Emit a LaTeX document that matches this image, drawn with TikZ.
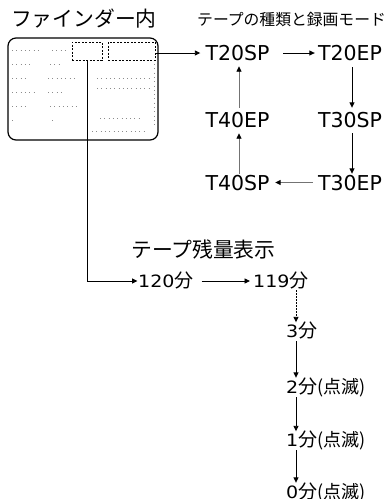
\documentclass[tikz,border=0pt]{standalone}
\usepackage{fontspec}
\usetikzlibrary{arrows.meta}
\newfontfamily\jpf{Noto Sans CJK JP}
\newfontfamily\ltf{DejaVu Sans}
\newfontfamily\mnf[FakeStretch=1.12]{DejaVu Sans}
\newcommand{\fen}{{\jpf\fontsize{19}{21}\selectfont 分}}
\newcommand{\tenmetsu}{{\jpf\fontsize{18}{21}\selectfont (点滅)}}
\begin{document}
\begin{tikzpicture}[x=1pt,y=-1pt,
  titlebig/.style={inner sep=0pt, anchor=west, font=\jpf\fontsize{20.8}{22}\selectfont},
  titlesmall/.style={inner sep=0pt, anchor=west, font=\jpf\fontsize{15.8}{18}\selectfont},
  mode/.style={inner sep=0pt, text height=15pt, text depth=0pt, font=\ltf\fontsize{20.5}{22}\selectfont},
  minute/.style={inner sep=0pt, anchor=west, text height=13pt, text depth=0pt, font=\mnf\fontsize{17}{20}\selectfont},
  arr/.style={line width=0.9pt, -{Triangle[length=5.5pt,width=5pt]}},
  grayarr/.style={arr, draw=black!55, -{Triangle[length=5.5pt,width=5pt,fill=black,color=black]}},
  dashbox/.style={draw, inner sep=0pt, line width=0.9pt, dash pattern=on 2pt off 1.5pt},
  dots/.style={black!45, line width=0.8pt, dash pattern=on 0.8pt off 3.5pt}
]
\useasboundingbox (0,0) rectangle (388,499);

% titles
\node[titlebig] (finderT) at (11,18.5) {ファインダー内};
\node[titlesmall] (modeT) at (197,19.5) {テープの種類と録画モード};
\node[titlebig] (remT) at (131,249) {テープ残量表示};

% finder frame
\node[draw, rounded corners=8pt, line width=1.2pt, minimum width=150pt, minimum height=102pt, inner sep=0pt] (finder) at (83,89) {};
\node[dashbox, minimum width=30pt, minimum height=18pt] (lbox) at (87,51) {};
\node[dashbox, minimum width=47pt, minimum height=18pt] (rbox) at (131.5,51) {};

% faint display dots
\draw[dots] (12,50) -- (40,50) (52,50) -- (66,50)
            (12,64) -- (30,64) (50,64) -- (60,64)
            (12,78) -- (28,78) (48,78) -- (78,78)
            (12,92) -- (35,92) (48,92) -- (62,92)
            (12,106) -- (28,106) (50,106) -- (80,106)
            (12,120) -- (16,120) (52,120) -- (56,120)
            (97,78) -- (152,78) (97,88) -- (152,88)
            (100,118) -- (140,118) (92,131) -- (145,131)
            (154,64) -- (154,128);

% mode nodes
\node[mode] (t20sp) at (237.5,53) {T20SP};
\node[mode] (t20ep) at (350,53) {T20EP};
\node[mode] (t40ep) at (237.5,120) {T40EP};
\node[mode] (t30sp) at (350,120) {T30SP};
\node[mode] (t40sp) at (237.5,182.5) {T40SP};
\node[mode] (t30ep) at (350,182.5) {T30EP};
\coordinate (lcol) at (239,0);
\coordinate (rcol) at (352,0);

% minute nodes
\node[minute] (m120) at (138,281) {120\fen};
\node[minute] (m119) at (253,281) {119\fen};
\node[minute] (m3) at (286,331) {3\fen};
\node[minute] (m2) at (286,387) {2\fen\tenmetsu};
\node[minute] (m1) at (286,440) {1\fen\tenmetsu};
\node[minute] (m0) at (286,491.5) {0\fen\tenmetsu};
\coordinate (mcol) at (296,0);

% connectors
\draw[arr, shorten >=5pt] (rbox.east |- t20sp) -- (t20sp.west);
\draw[arr, shorten >=0.5pt] (lbox.south) |- (m120.west);

\draw[arr, shorten <=13.5pt, shorten >=3pt] (t20sp.east) -- (t20ep.west);
\draw[arr, shorten <=6.5pt, shorten >=4.5pt] (t20ep.south -| rcol) -- (t30sp.north -| rcol);
\draw[arr, shorten <=5.5pt, shorten >=1pt] (t30sp.south -| rcol) -- (t30ep.north -| rcol);
\draw[grayarr, shorten <=5pt, shorten >=5.5pt] (t30ep.west) -- (t40sp.east);
\draw[grayarr, shorten <=1pt, shorten >=5.5pt] (t40sp.north -| lcol) -- (t40ep.south -| lcol);
\draw[grayarr, shorten <=4.5pt, shorten >=5.5pt] (t40ep.north -| lcol) -- (t20sp.south -| lcol);

\draw[arr, shorten <=8pt, shorten >=3pt] (m120.east) -- (m119.west);
\draw[arr, dash pattern=on 1.5pt off 1.5pt, shorten <=2.5pt, shorten >=2pt] (m119.south -| mcol) -- (m3.north -| mcol);
\draw[arr, shorten <=3.5pt, shorten >=2.5pt] (m3.south -| mcol) -- (m2.north -| mcol);
\draw[arr, shorten <=3.5pt, shorten >=2pt] (m2.south -| mcol) -- (m1.north -| mcol);
\draw[arr, shorten <=3.5pt, shorten >=2pt] (m1.south -| mcol) -- (m0.north -| mcol);
\end{tikzpicture}
\end{document}
